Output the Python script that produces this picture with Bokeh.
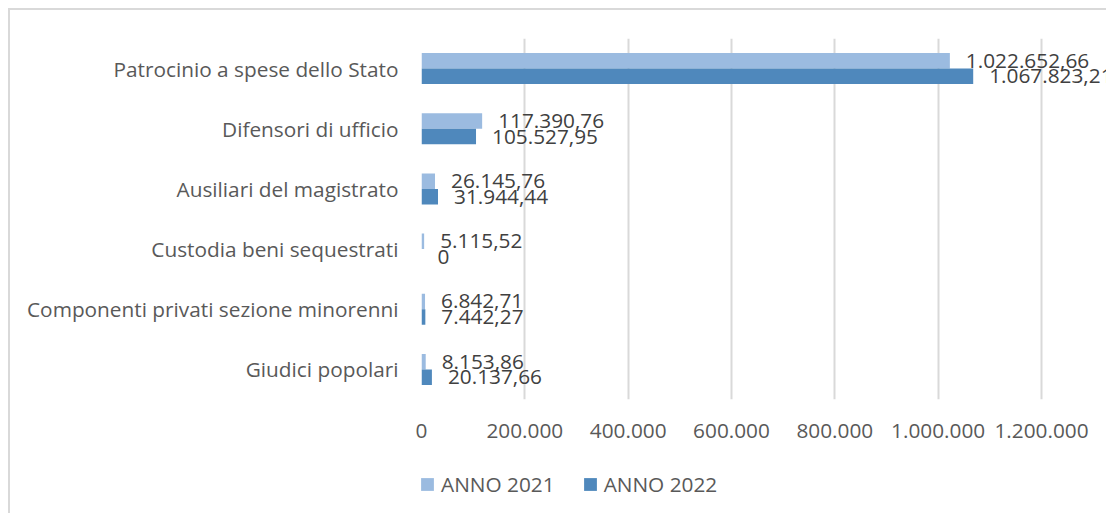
from bokeh.plotting import figure
from bokeh.layouts import column
from bokeh.models import (ColumnDataSource, FactorRange, FixedTicker, Legend, LegendItem,
                          Range1d)
from bokeh.transform import dodge
from bokeh.core.properties import value
from bokeh.embed import file_html
from bokeh.resources import INLINE

# ---- data ----
categories = [
    "Patrocinio a spese dello Stato",
    "Difensori di ufficio",
    "Ausiliari del magistrato",
    "Custodia beni sequestrati",
    "Componenti privati sezione minorenni",
    "Giudici popolari",
]
anno_2021 = [1022652.66, 117390.76, 26145.76, 5115.52, 6842.71, 8153.86]
anno_2022 = [1067823.21, 105527.95, 31944.44, 0.0, 7442.27, 20137.66]
series_names = ["ANNO 2021", "ANNO 2022"]
x_ticks = [0, 200000, 400000, 600000, 800000, 1000000, 1200000]
x_tick_labels = ["0", "200.000", "400.000", "600.000", "800.000", "1.000.000", "1.200.000"]


def it_fmt(v):
    if v == 0:
        return "0"
    s = f"{v:,.2f}"
    return s.replace(",", "X").replace(".", ",").replace("X", ".")


FONT = "Open Sans"
FS = "20.8px"
LIGHT = "#9bbbe0"
DARK = "#4f88bc"

src = ColumnDataSource(dict(
    cat=categories,
    v21=anno_2021,
    v22=anno_2022,
    l21=[it_fmt(v) for v in anno_2021],
    l22=[it_fmt(v) for v in anno_2022],
))

x_end = 1200000 * 685 / 620

p = figure(
    y_range=FactorRange(*reversed(categories)),
    x_range=Range1d(0, x_end),
    width=1096, height=458,
    output_backend="svg", toolbar_location=None,
    min_border_left=411, min_border_right=0,
    min_border_top=28, min_border_bottom=69,
)
p.outline_line_color = None
p.background_fill_color = "white"
p.border_fill_color = "white"

bh = 0.258
off = 0.129
p.hbar(y=dodge("cat", off, range=p.y_range), right="v21", left=0, height=bh,
       source=src, fill_color=LIGHT, line_color=None)
p.hbar(y=dodge("cat", -off, range=p.y_range), right="v22", left=0, height=bh,
       source=src, fill_color=DARK, line_color=None)

p.text(x="v21", y=dodge("cat", off, range=p.y_range), text="l21", source=src,
       x_offset=16, text_align="left", text_baseline="middle",
       text_font=value(FONT), text_font_size=FS, text_color="#404040")
p.text(x="v22", y=dodge("cat", -off, range=p.y_range), text="l22", source=src,
       x_offset=16, text_align="left", text_baseline="middle",
       text_font=value(FONT), text_font_size=FS, text_color="#404040")

# axes
p.xaxis.ticker = FixedTicker(ticks=x_ticks)
p.xaxis.major_label_overrides = dict(zip(x_ticks, x_tick_labels))
p.xaxis.axis_line_color = None
p.xaxis.major_tick_line_color = None
p.xaxis.minor_tick_line_color = None
p.xaxis.major_tick_out = 0
p.xaxis.minor_tick_out = 0
p.xaxis.major_label_standoff = 24
p.xaxis.major_label_text_font = FONT
p.xaxis.major_label_text_font_size = FS
p.xaxis.major_label_text_color = "#595959"

p.yaxis.axis_line_color = None
p.yaxis.major_tick_line_color = None
p.yaxis.minor_tick_line_color = None
p.yaxis.major_tick_out = 0
p.yaxis.minor_tick_out = 0
p.yaxis.major_label_standoff = 23
p.yaxis.major_label_text_font = FONT
p.yaxis.major_label_text_font_size = FS
p.yaxis.major_label_text_color = "#595959"

p.ygrid.grid_line_color = None
p.xgrid.ticker = FixedTicker(ticks=x_ticks)
p.xgrid.grid_line_color = "#d9d9d9"
p.xgrid.grid_line_width = 2

# ---- legend strip (its proxy bars fall outside its visible range) ----
pl = figure(width=1096, height=45, x_range=Range1d(-2, -1), y_range=Range1d(0, 1),
            x_axis_type=None, y_axis_type=None, output_backend="svg",
            toolbar_location=None, min_border=0)
pl.outline_line_color = None
pl.grid.grid_line_color = None
pl.border_fill_color = "white"
k21 = pl.hbar(y=0.5, right="v21", left=0, height=0.5, source=src,
              fill_color=LIGHT, line_color=None)
k22 = pl.hbar(y=0.5, right="v22", left=0, height=0.5, source=src,
              fill_color=DARK, line_color=None)
legend = Legend(
    items=[LegendItem(label=series_names[0], renderers=[k21]),
           LegendItem(label=series_names[1], renderers=[k22])],
    orientation="horizontal", location=(-2, 15),
    glyph_width=16, glyph_height=16, label_standoff=6, spacing=27,
    padding=0, margin=0, border_line_color=None, background_fill_alpha=0,
    label_text_font=FONT, label_text_font_size=FS, label_text_color="#595959",
)
pl.add_layout(legend, "center")

layout = column(p, pl, spacing=0)
layout.styles = {"border-top": "2px solid #d9d9d9", "border-left": "2px solid #d9d9d9",
                 "position": "relative", "left": "8px", "top": "8px"}

open("out.html", "w").write(file_html(layout, INLINE))
